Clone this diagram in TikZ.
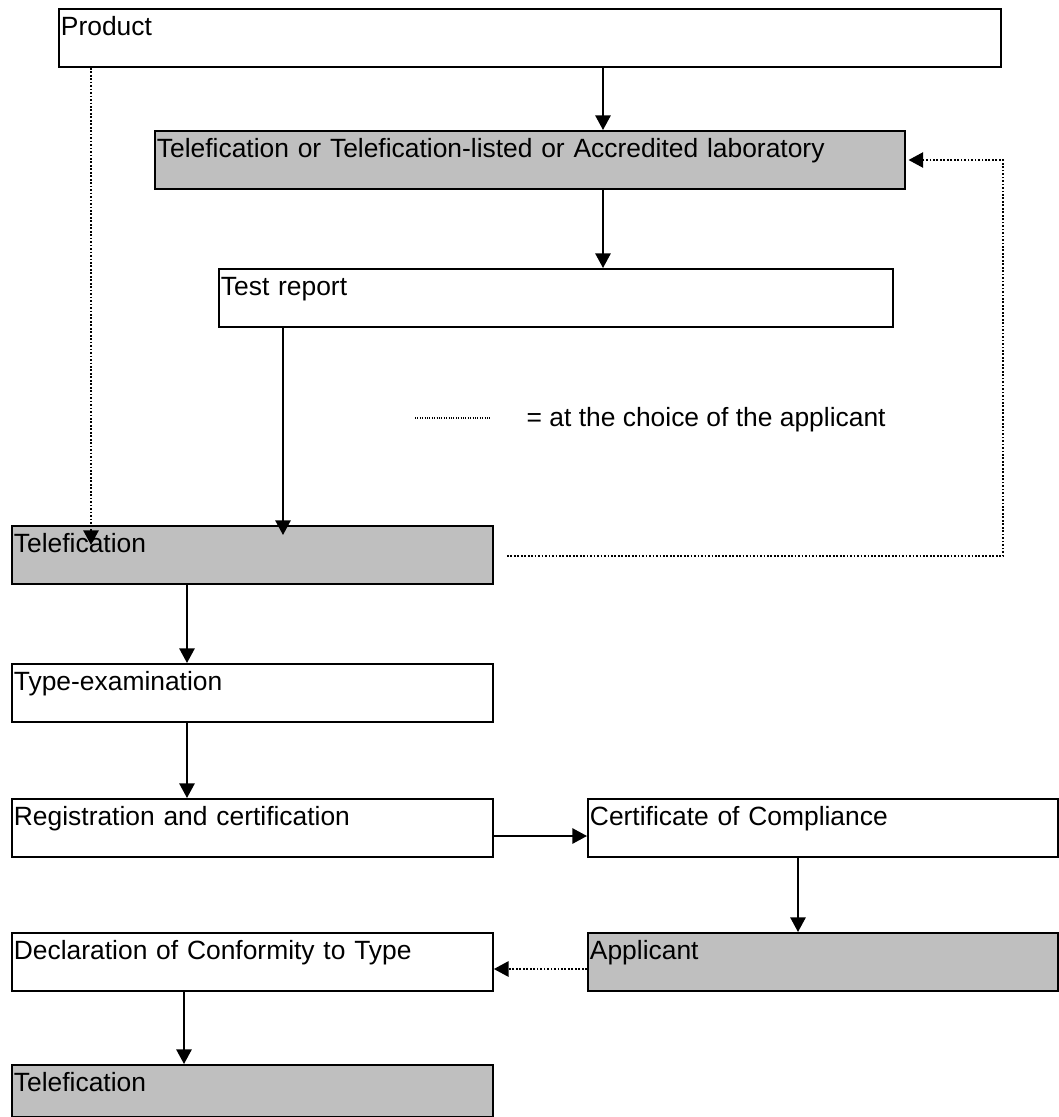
\documentclass[tikz,border=0pt]{standalone}
\usepackage{fontspec}
\setmainfont{Liberation Sans}
\usetikzlibrary{arrows.meta}

\tikzset{
  stage/.style={draw=black, line width=1.4pt, anchor=north west, inner xsep=1.5pt, inner ysep=0pt,
    align=left, text width=#1, text height=20.25pt, text depth=23.25pt,
    font=\fontsize{19.8}{24}\selectfont},
  grey/.style={fill=black!25},
  flow/.style={-{Triangle[length=11pt,width=11.5pt]}, line width=1.4pt},
  choice/.style={flow, line width=1.3pt, dash pattern=on 1.3pt off 1.3pt},
}

\begin{document}
\begin{tikzpicture}[x=0.75pt, y=-0.75pt]
    \useasboundingbox (0,0) rectangle (1058,1117);

    % upper part
    \node[stage=703.5pt] (product) at (58,8) {Product};
    \node[stage=559.5pt, grey] (lab) at (154,130) {Telefication or Telefication-listed or Accredited laboratory};
    \node[stage=502.5pt] (report) at (218,268) {Test report};

    % left column
    \node[stage=357.75pt, grey] (tele1) at (11,525) {Telefication};
    \node[stage=357.75pt] (typeex) at (11,663) {Type-examination};
    \node[stage=357.75pt] (regcert) at (11,798) {Registration and certification};
    \node[stage=357.75pt] (decl) at (11,932) {Declaration of Conformity to Type};
    \node[stage=357.75pt, grey, text depth=18.75pt] (tele2) at (11,1064) {Telefication};

    % right column
    \node[stage=349.5pt] (cert) at (587,798) {Certificate of Compliance};
    \node[stage=349.5pt, grey] (applicant) at (587,932) {Applicant};

    % legend
    \coordinate (keyA) at (415,418);
    \coordinate (keyB) at (491,418);
    \draw[densely dotted, line width=0.8pt] (keyA) -- (keyB);
    \node[anchor=base west, font=\fontsize{19.8}{24}\selectfont] (keytext) at (522,426) {= at the choice of the applicant};

    % free ends and bends
    \coordinate (reportin) at (283,535);
    \coordinate (productin) at (91,545);
    \coordinate (loopstart) at (507,556);
    \coordinate (loopturn) at (1003,160);

    % connectors
    \draw[flow] (product.south -| 603,0) -- (lab.north -| 603,0);
    \draw[flow] (lab.south -| 603,0) -- (report.north -| 603,0);
    \draw[flow] (report.south -| reportin) -- (reportin);
    \draw[choice] (product.south -| productin) -- (productin);
    \draw[choice] (loopstart) -| (loopturn) -- ([xshift=2pt]lab.east |- loopturn);
    \draw[flow] (tele1.south -| 187,0) -- (typeex.north -| 187,0);
    \draw[flow] (typeex.south -| 187,0) -- (regcert.north -| 187,0);
    \draw[flow] (regcert.east |- 0,836) -- (cert.west |- 0,836);
    \draw[flow] (cert.south -| 798,0) -- (applicant.north -| 798,0);
    \draw[choice] (applicant.west |- 0,969) -- (decl.east |- 0,969);
    \draw[flow] (decl.south -| 184,0) -- (tele2.north -| 184,0);
\end{tikzpicture}
\end{document}
